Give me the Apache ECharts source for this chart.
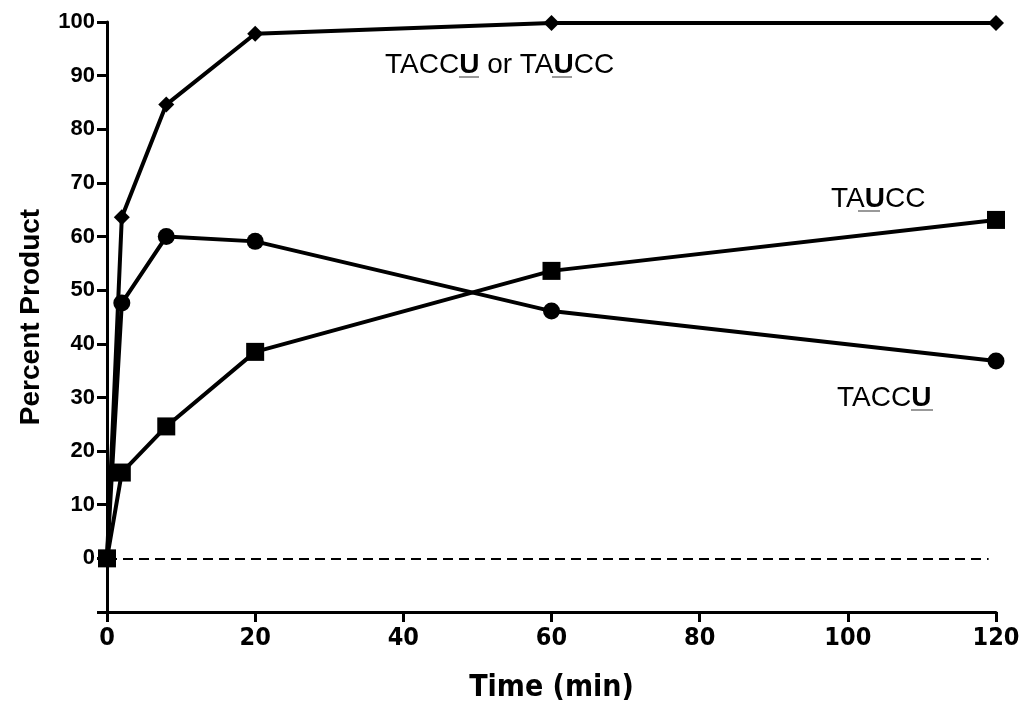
<!DOCTYPE html>
<html>
<head>
<meta charset="utf-8">
<script src="https://cdn.jsdelivr.net/npm/echarts@6/dist/echarts.min.js"></script>
<style>
  html, body { margin: 0; padding: 0; background: #fff; }
  #chart { width: 1024px; height: 707px; }
</style>
</head>
<body>
<div id="chart"></div>
<script>
var times = [0, 2, 8, 20, 60, 120];
var either = [0, 63.6, 84.6, 97.8, 99.8, 99.8];   // TACCU or TAUCC, diamonds
var taccu = [0, 47.6, 60.0, 59.1, 46.1, 36.8];    // TACCU, circles
var taucc = [0, 16.0, 24.6, 38.5, 53.6, 63.1];    // TAUCC, squares
var xTicks = [0, 20, 40, 60, 80, 100, 120];
var yTicks = [0, 10, 20, 30, 40, 50, 60, 70, 80, 90, 100];

function pairs(ys) {
  var out = [];
  for (var i = 0; i < times.length; i++) {
    out.push([times[i], ys[i]]);
  }
  return out;
}

var font = '"Liberation Sans", Arial, sans-serif';
var narrow = '"Liberation Sans Narrow", "DejaVu Sans Condensed", "Liberation Sans", sans-serif';

var myChart = echarts.init(document.getElementById('chart'));

function lineSeries(name, ys, symbol, size) {
  return {
    name: name,
    type: 'line',
    data: pairs(ys),
    symbol: symbol,
    symbolSize: size,
    lineStyle: { color: '#000', width: 4 },
    itemStyle: { color: '#000' },
    z: 3
  };
}

var series = [
  lineSeries('TAUCC', taucc, 'rect', 18),
  lineSeries('TACCU', taccu, 'circle', 17),
  lineSeries('TACCU or TAUCC', either, 'diamond', 16)
];
// dashed baseline at zero
series[0].markLine = {
  silent: true,
  symbol: 'none',
  label: { show: false },
  lineStyle: { color: '#000', type: [10, 6], width: 2 },
  data: [[{ coord: [0, 0] }, { coord: [119, 0] }]]
};

var rich = {
  n: { fontFamily: font, fontSize: 28, color: '#000' },
  b: { fontFamily: font, fontSize: 28, color: '#000', fontWeight: 'bold' }
};

// thin underline under the bold U
function uline(x1, x2, y) {
  return {
    type: 'line', silent: true,
    shape: { x1: x1, y1: y, x2: x2, y2: y },
    style: { stroke: '#777', lineWidth: 1.5 }
  };
}

myChart.setOption({
  animation: false,
  backgroundColor: '#fff',
  grid: { left: 107, right: 28, top: 22, bottom: 95, containLabel: false, outerBoundsMode: 'none' },
  xAxis: {
    type: 'value',
    min: 0,
    max: 120,
    interval: 20,
    name: 'Time (min)',
    nameLocation: 'middle',
    nameGap: 61,
    nameMoveOverlap: false,
    nameTextStyle: { fontFamily: narrow, fontWeight: 'bold', fontSize: 30, color: '#000' },
    splitLine: { show: false },
    axisLine: { onZero: false, lineStyle: { color: '#000', width: 3 } },
    axisTick: { length: 10, lineStyle: { color: '#000', width: 3 } },
    axisLabel: {
      margin: 14,
      fontFamily: narrow, fontWeight: 'bold', fontSize: 25, color: '#000',
      formatter: function (v) { return xTicks.indexOf(v) >= 0 ? String(v) : ''; }
    }
  },
  yAxis: {
    type: 'value',
    min: -10,
    max: 100,
    interval: 10,
    name: 'Percent Product',
    nameLocation: 'middle',
    nameGap: 62,
    nameMoveOverlap: false,
    nameTextStyle: { fontFamily: font, fontWeight: 'bold', fontSize: 28, color: '#000' },
    splitLine: { show: false },
    axisLine: { onZero: false, lineStyle: { color: '#000', width: 3 } },
    axisTick: { length: 10, lineStyle: { color: '#000', width: 3 } },
    axisLabel: {
      margin: 12,
      fontFamily: font, fontWeight: 'bold', fontSize: 22, color: '#000',
      formatter: function (v) { return yTicks.indexOf(v) >= 0 ? String(v) : ''; }
    }
  },
  graphic: [
    { type: 'text', left: 385, top: 51, style: { text: '{n|TACC}{b|U}{n| or TA}{b|U}{n|CC}', rich: rich } },
    { type: 'text', left: 831, top: 185, style: { text: '{n|TA}{b|U}{n|CC}', rich: rich } },
    { type: 'text', left: 837, top: 384, style: { text: '{n|TACC}{b|U}', rich: rich } },
    uline(459, 479, 77),
    uline(552, 572, 77),
    uline(858, 880, 211),
    uline(911, 933, 410)
  ],
  series: series
});
</script>
</body>
</html>
